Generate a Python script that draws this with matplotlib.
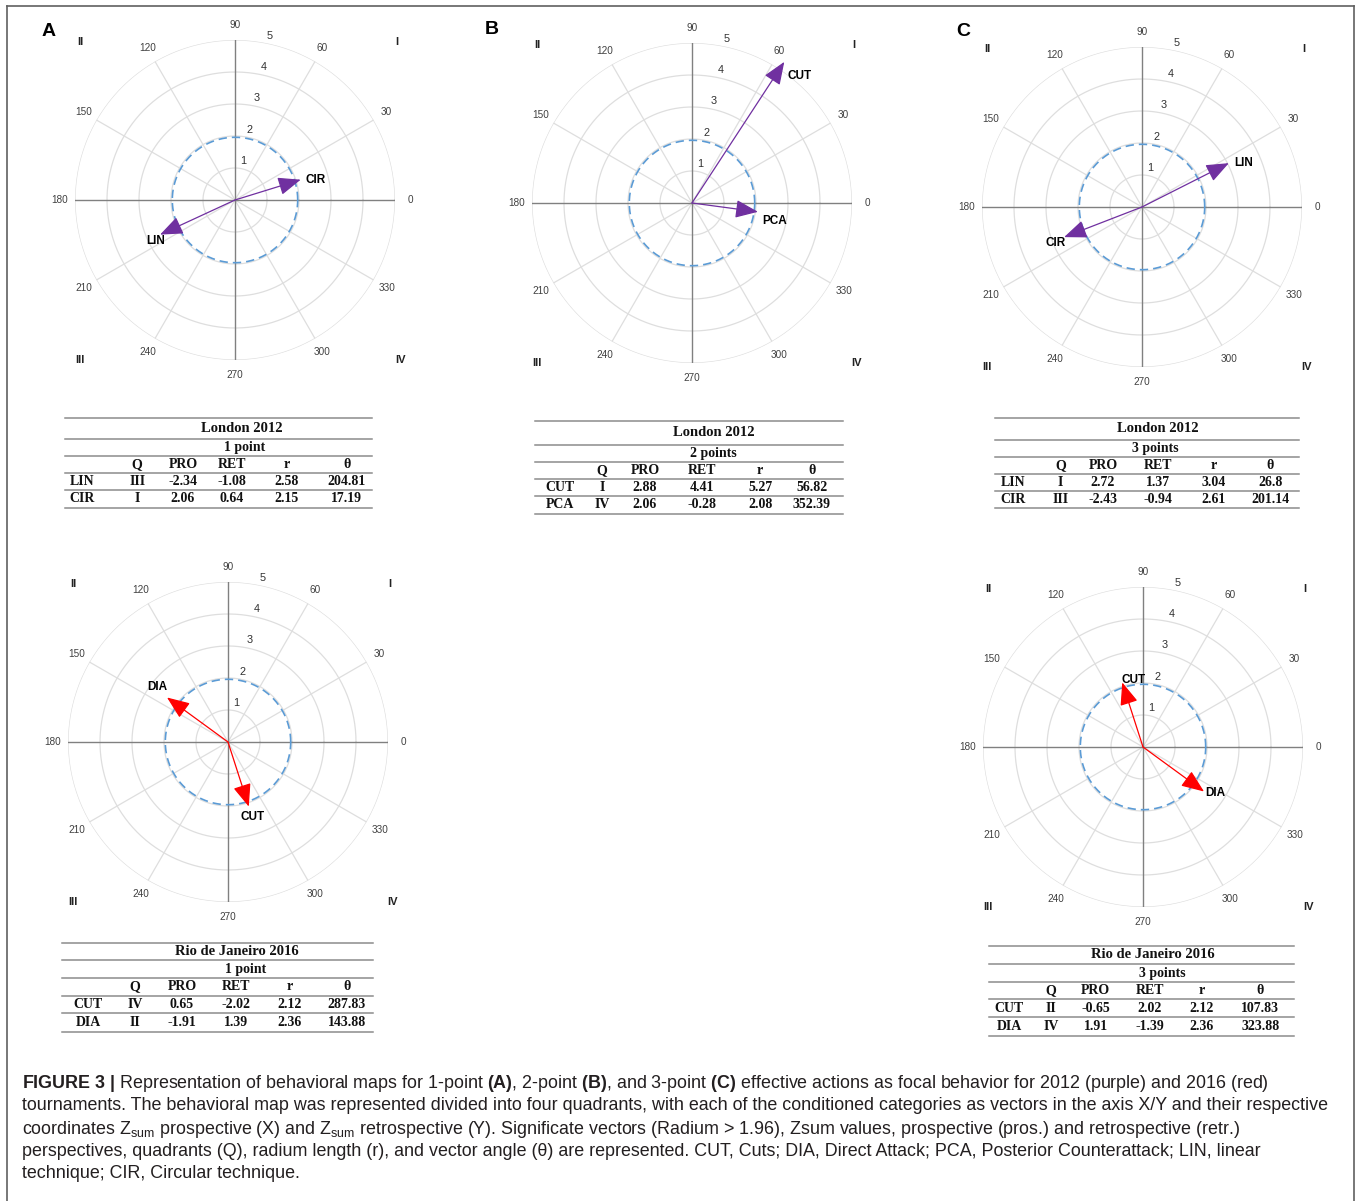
import numpy as np
import matplotlib
matplotlib.use("Agg")
import matplotlib.pyplot as plt
from matplotlib.lines import Line2D

plt.rcParams['mathtext.fontset'] = 'custom'
plt.rcParams['mathtext.rm'] = 'Liberation Sans'
plt.rcParams['mathtext.bf'] = 'Liberation Sans:bold'
plt.rcParams['mathtext.it'] = 'Liberation Sans:italic'

# ---------------- data ----------------
map_titles = ['London 2012', 'London 2012', 'London 2012',
              'Rio de Janeiro 2016', 'Rio de Janeiro 2016']
map_subtitles = ['1 point', '2 points', '3 points', '1 point', '3 points']
map_years = [2012, 2012, 2012, 2016, 2016]
vec_names = [['LIN', 'CIR'], ['CUT', 'PCA'], ['LIN', 'CIR'], ['CUT', 'DIA'], ['CUT', 'DIA']]
vec_quadrants = [['III', 'I'], ['I', 'IV'], ['I', 'III'], ['IV', 'II'], ['II', 'IV']]
vec_pro = [[-2.34, 2.06], [2.88, 2.06], [2.72, -2.43], [0.65, -1.91], [-0.65, 1.91]]
vec_ret = [[-1.08, 0.64], [4.41, -0.28], [1.37, -0.94], [-2.02, 1.39], [2.02, -1.39]]
vec_r = [[2.58, 2.15], [5.27, 2.08], [3.04, 2.61], [2.12, 2.36], [2.12, 2.36]]
vec_theta = [[204.81, 17.19], [56.82, 352.39], [26.8, 201.14], [287.83, 143.88], [107.83, 323.88]]
table_header = ['', 'Q', 'PRO', 'RET', 'r', 'θ']
ring_radii = [1, 2, 3, 4, 5]
angle_ticks = list(range(0, 360, 30))
significance = 1.96
quadrant_names = ['I', 'II', 'III', 'IV']
panel_letters = ['A', 'B', 'C']

caption_lines = [
    r"$\bf{FIGURE\ 3\ |}$ Representation of behavioral maps for 1-point $\bf{(A)}$, 2-point $\bf{(B)}$, and 3-point $\bf{(C)}$ effective actions as focal behavior for 2012 (purple) and 2016 (red)",
    "tournaments. The behavioral map was represented divided into four quadrants, with each of the conditioned categories as vectors in the axis X/Y and their respective",
    r"coordinates Z$_{\rm sum}$ prospective (X) and Z$_{\rm sum}$ retrospective (Y). Significate vectors (Radium > 1.96), Zsum values, prospective (pros.) and retrospective (retr.)",
    "perspectives, quadrants (Q), radium length (r), and vector angle (θ) are represented. CUT, Cuts; DIA, Direct Attack; PCA, Posterior Counterattack; LIN, linear",
    "technique; CIR, Circular technique.",
]

# ---------------- layout / style ----------------
W, H = 1357, 1201
year_colors = {2012: '#7030a0', 2016: '#ff0000'}
polar_centers = [(235, 200), (692, 203), (1142, 207), (228, 742), (1143, 747)]
polar_R = 160
label_offsets = [
    [(5, 0, 'right', 'top'), (5, 0, 'left', 'center')],
    [(3, -8, 'left', 'top'), (4, -3, 'left', 'top')],
    [(5, 0, 'left', 'center'), (2, 0, 'right', 'top')],
    [(4, -4, 'center', 'top'), (0, 4, 'right', 'bottom')],
    [(-1, 2, 'left', 'center'), (1, -1, 'left', 'center')],
]
table_x = [(65, 372), (535, 843), (995, 1299), (62, 373), (989, 1294)]
table_lines = [
    [418, 439, 456, 473, 490, 508],
    [421, 445, 462, 479, 496, 514],
    [418, 440, 457, 474, 491, 508],
    [943, 960, 978, 996, 1013, 1032],
    [946, 964, 982, 999, 1017, 1036],
]
table_cols = [
    [0.055, 0.235, 0.384, 0.544, 0.723, 0.918],
    [0.081, 0.217, 0.357, 0.542, 0.731, 0.899],
    [0.060, 0.216, 0.355, 0.537, 0.720, 0.905],
    [0.084, 0.235, 0.386, 0.560, 0.733, 0.916],
    [0.066, 0.203, 0.350, 0.528, 0.698, 0.889],
]
table_title_x = [0.577, 0.58, 0.537, 0.563, 0.538]
table_sub_x = [0.586, 0.58, 0.527, 0.592, 0.567]
letter_pos = [(49, 32), (492, 30), (963, 32)]


def fx(px):
    return px / W


def fy(py):
    return 1 - py / H


fig = plt.figure(figsize=(W / 100, H / 100), dpi=100)
fig.patch.set_facecolor('white')

SANS = 'Liberation Sans'
SERIF = 'Liberation Serif'

# ---------------- polar maps ----------------
for m, (cx, cy) in enumerate(polar_centers):
    R = polar_R
    ax = fig.add_axes([fx(cx - R), fy(cy + R), 2 * R / W, 2 * R / H], projection='polar')
    ax.set_theta_zero_location('E')
    ax.set_ylim(0, ring_radii[-1])
    ax.set_xticks([])
    ax.set_yticks([])
    ax.grid(False)
    ax.spines['polar'].set_visible(False)
    ax.patch.set_alpha(0)

    tt = np.linspace(0, 2 * np.pi, 400)
    for rr in ring_radii:
        ax.plot(tt, np.full_like(tt, rr), color='#dedede', lw=0.9, zorder=1)
    for a in angle_ticks:
        th = np.deg2rad(a)
        if a % 90 == 0:
            ax.plot([th, th], [0, ring_radii[-1]], color='#808080', lw=1.0, zorder=2)
        else:
            ax.plot([th, th], [0, ring_radii[-1]], color='#dedede', lw=0.9, zorder=1)
        ax.text(th, ring_radii[-1] * 1.094, str(a), ha='center', va='center',
                fontsize=7.2, color='#404040', family=SANS, clip_on=False)
    for rr in ring_radii:
        ax.text(np.deg2rad(78), rr + 0.25, str(rr), ha='center', va='center',
                fontsize=7.8, color='#303030', family=SANS, clip_on=False)
    ax.plot(tt, np.full_like(tt, significance), color='#5b9bd5', lw=1.2,
            ls=(0, (5, 3)), zorder=3)

    col = year_colors[map_years[m]]
    for k, name in enumerate(vec_names[m]):
        th = np.deg2rad(vec_theta[m][k])
        r = vec_r[m][k]
        ax.annotate('', xy=(th, r), xytext=(0, 0), xycoords='data', textcoords='data',
                    annotation_clip=False,
                    arrowprops=dict(arrowstyle='-|>,head_length=1.0,head_width=0.4',
                                    mutation_scale=14, color=col, lw=0.9,
                                    shrinkA=0, shrinkB=0, clip_on=False), zorder=5)
        dx, dy, ha, va = label_offsets[m][k]
        ax.annotate(name, xy=(th, r), xytext=(dx, dy), textcoords='offset pixels',
                    ha=ha, va=va, fontsize=8.5, fontweight='bold', family=SANS,
                    color='black', annotation_clip=False, zorder=6)

    quad_off = [(162, -158), (-155, -158), (-155, 160), (165, 160)]
    for qn, (ox, oy) in zip(quadrant_names, quad_off):
        fig.text(fx(cx + ox), fy(cy + oy), qn, ha='center', va='center',
                 fontsize=8, fontweight='bold', family=SANS, color='#222222')

# ---------------- panel letters ----------------
for letter, (px, py) in zip(panel_letters, letter_pos):
    fig.text(fx(px), fy(py), letter, ha='center', va='center', fontsize=14,
             fontweight='bold', family=SANS, color='black')

# ---------------- tables ----------------
for m in range(len(map_titles)):
    x0, x1 = table_x[m]
    ys = table_lines[m]
    w = x1 - x0
    for y in ys:
        fig.add_artist(Line2D([fx(x0), fx(x1)], [fy(y), fy(y)], color='#8c8c8c', lw=1.1))
    mids = [(ys[i] + ys[i + 1]) / 2 for i in range(len(ys) - 1)]
    fig.text(fx(x0 + table_title_x[m] * w), fy(mids[0]), map_titles[m], ha='center',
             va='center', fontsize=10.5, fontweight='bold', family=SERIF, color='#111111')
    fig.text(fx(x0 + table_sub_x[m] * w), fy(mids[1]), map_subtitles[m], ha='center',
             va='center', fontsize=10, fontweight='bold', family=SERIF, color='#111111')
    cols = table_cols[m]
    for c, h in enumerate(table_header):
        fig.text(fx(x0 + cols[c] * w), fy(mids[2]), h, ha='center', va='center',
                 fontsize=10, fontweight='bold', family=SERIF, color='#111111')
    for k, name in enumerate(vec_names[m]):
        row = [name, vec_quadrants[m][k], str(vec_pro[m][k]), str(vec_ret[m][k]),
               str(vec_r[m][k]), str(vec_theta[m][k])]
        for c, v in enumerate(row):
            fig.text(fx(x0 + cols[c] * w), fy(mids[3 + k]), v, ha='center', va='center',
                     fontsize=10, fontweight='bold', family=SERIF, color='#111111')

# ---------------- caption ----------------
renderer = fig.canvas.get_renderer()
probe = fig.text(0, 0, caption_lines[1], fontsize=10, family=SANS)
wpx = probe.get_window_extent(renderer).width
probe.remove()
cap_fs = 10 * (1337 - 22) / wpx
cap_y = [1083, 1106, 1129, 1152, 1174]
for line, y in zip(caption_lines, cap_y):
    fig.text(fx(22), fy(y), line, ha='left', va='center', fontsize=cap_fs,
             family=SANS, color='#231f20')

# ---------------- border ----------------
for xs, ys in [([7, 7], [6, H]), ([7, 1354], [6, 6]), ([1354, 1354], [6, H])]:
    fig.add_artist(Line2D([fx(x) for x in xs], [fy(y) for y in ys], color='#606060', lw=1.2))

fig.savefig('out.png', dpi=100, facecolor='white')
